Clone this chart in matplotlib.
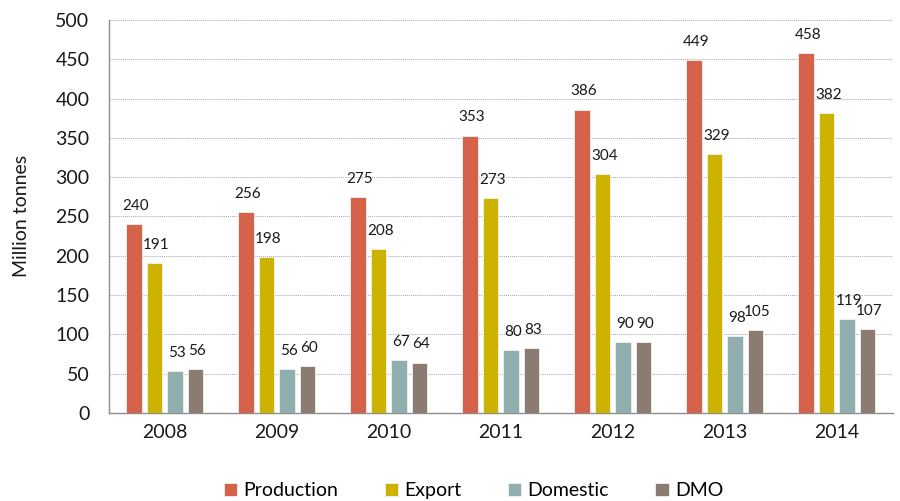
import matplotlib.pyplot as plt
import numpy as np

plt.rcParams['font.family'] = ['Lato', 'DejaVu Sans']

years = ['2008', '2009', '2010', '2011', '2012', '2013', '2014']
production = [240, 256, 275, 353, 386, 449, 458]
export = [191, 198, 208, 273, 304, 329, 382]
domestic = [53, 56, 67, 80, 90, 98, 119]
dmo = [56, 60, 64, 83, 90, 105, 107]

series = [('Production', production, '#D4634A'),
          ('Export', export, '#CDB300'),
          ('Domestic', domestic, '#8FAEAD'),
          ('DMO', dmo, '#8C7B70')]

fig = plt.figure(figsize=(9, 5.01), dpi=100)
ax = fig.add_axes([0.121, 0.176, 0.871, 0.784])

x = np.arange(len(years))
pitch = 0.183
width = 0.14
for i, (name, vals, color) in enumerate(series):
    pos = x + (i - 1.5) * pitch
    bars = ax.bar(pos, vals, width, color=color, label=name,
                  edgecolor='#f2f2f2', linewidth=0.6, zorder=3)
    for b, v in zip(bars, vals):
        ax.annotate(str(v), (b.get_x() + b.get_width() / 2 + 0.015, v),
                    xytext=(0, 8), textcoords='offset points',
                    ha='center', va='bottom', fontsize=11, color='#1a1a1a')

ax.set_xlim(-0.5, len(years) - 0.5)
ax.set_ylim(0, 500)
ax.set_yticks(range(0, 501, 50))
ax.set_xticks(x)
ax.set_xticklabels(years)
ax.tick_params(axis='both', length=0, labelsize=14, colors='#1a1a1a')
ax.tick_params(axis='y', pad=14)
ax.tick_params(axis='x', pad=8)
ax.grid(axis='y', linestyle=(0, (1, 1)), color='#a8a8a8', linewidth=0.7, zorder=0)
for s in ['top', 'right']:
    ax.spines[s].set_visible(False)
for s in ['left', 'bottom']:
    ax.spines[s].set_color('#8c8c8c')
    ax.spines[s].set_linewidth(1.0)
ax.set_ylabel('Million tonnes', fontsize=14, color='#1a1a1a')
ax.yaxis.set_label_coords(-0.101, 0.5)

fig.legend(loc='center', bbox_to_anchor=(0.526, 0.02), ncol=4,
           frameon=False, fontsize=14, handlelength=0.7, handleheight=0.7,
           handletextpad=0.3, columnspacing=2.4)

fig.savefig('out.png', dpi=100)
